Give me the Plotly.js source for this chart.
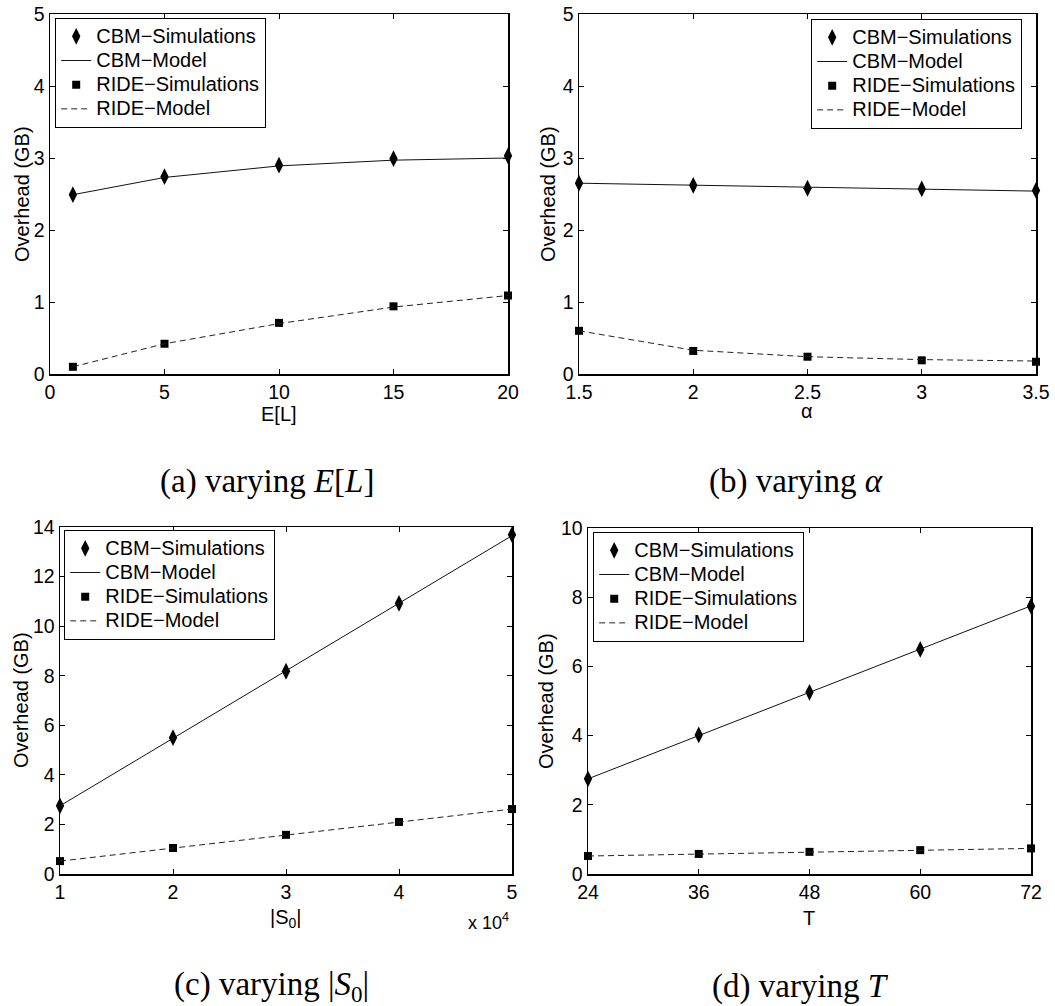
<!DOCTYPE html>
<html>
<head>
<meta charset="utf-8">
<script src="https://cdn.plot.ly/plotly-3.0.1.min.js"></script>
<style>html,body{margin:0;padding:0;background:#fff;}#chart{width:1055px;height:1006px;}</style>
</head>
<body>
<div id="chart"></div>
<script>
// ---------- data ----------
const seriesNames = ["CBM\u2212Simulations", "CBM\u2212Model", "RIDE\u2212Simulations", "RIDE\u2212Model"];

const xA = [1, 5, 10, 15, 20];
const cbmSimA = [2.49, 2.74, 2.90, 2.99, 3.03];
const cbmModelA = [2.49, 2.73, 2.89, 2.97, 3.00];
const rideSimA = [0.10, 0.42, 0.71, 0.94, 1.09];
const rideModelA = [0.10, 0.42, 0.70, 0.93, 1.09];

const xB = [1.5, 2, 2.5, 3, 3.5];
const cbmSimB = [2.65, 2.62, 2.58, 2.57, 2.55];
const cbmModelB = [2.65, 2.62, 2.59, 2.56, 2.54];
const rideSimB = [0.60, 0.32, 0.24, 0.19, 0.17];
const rideModelB = [0.60, 0.33, 0.24, 0.20, 0.18];

const xC = [10000, 20000, 30000, 40000, 50000];
const cbmSimC = [2.75, 5.50, 8.18, 10.92, 13.69];
const cbmModelC = [2.75, 5.48, 8.20, 10.93, 13.65];
const rideSimC = [0.52, 1.05, 1.58, 2.10, 2.62];
const rideModelC = [0.52, 1.05, 1.57, 2.09, 2.62];
const xCTickVals = [10000, 20000, 30000, 40000, 50000];
const xCTickText = ["1", "2", "3", "4", "5"];

const xD = [24, 36, 48, 60, 72];
const cbmSimD = [2.75, 4.02, 5.25, 6.49, 7.74];
const cbmModelD = [2.75, 4.00, 5.25, 6.50, 7.75];
const rideSimD = [0.52, 0.58, 0.64, 0.69, 0.74];
const rideModelD = [0.52, 0.58, 0.64, 0.69, 0.74];

const captions = ["(a) varying <i>E</i>[<i>L</i>]", "(b) varying <i>\u03b1</i>", "(c) varying |<i>S</i><sub>0</sub>|", "(d) varying <i>T</i>"];
const xTitles = ["E[L]", "\u03b1", "|S<sub>0</sub>|", "T"];
const yTitle = "Overhead (GB)";

// ---------- helpers ----------
const W = 1055, H = 1006;
const px = x => x / W;
const py = y => 1 - y / H;
const FONT = "Liberation Sans, Arial, sans-serif";
const legendName = s => '<span style="font-size:20px">' + s + '</span>';

const traces = [];
function addPanel(idx, x, cs, cm, rs, rm) {
  const sfx = idx === 0 ? "" : String(idx + 1);
  const xa = "x" + sfx, ya = "y" + sfx, lg = "legend" + sfx;
  traces.push({x: x, y: cs, xaxis: xa, yaxis: ya, legend: lg, name: legendName(seriesNames[0]), type: "scatter", mode: "markers",
    marker: {symbol: "diamond-tall", size: 12, color: "#000"}, cliponaxis: false});
  traces.push({x: x, y: cm, xaxis: xa, yaxis: ya, legend: lg, name: legendName(seriesNames[1]), type: "scatter", mode: "lines",
    line: {color: "#111", width: 1}});
  traces.push({x: x, y: rs, xaxis: xa, yaxis: ya, legend: lg, name: legendName(seriesNames[2]), type: "scatter", mode: "markers",
    marker: {symbol: "square", size: 8, color: "#000"}, cliponaxis: false});
  traces.push({x: x, y: rm, xaxis: xa, yaxis: ya, legend: lg, name: legendName(seriesNames[3]), type: "scatter", mode: "lines",
    line: {color: "#222", width: 1, dash: "6px,4px"}});
}
addPanel(0, xA, cbmSimA, cbmModelA, rideSimA, rideModelA);
addPanel(1, xB, cbmSimB, cbmModelB, rideSimB, rideModelB);
addPanel(2, xC, cbmSimC, cbmModelC, rideSimC, rideModelC);
addPanel(3, xD, cbmSimD, cbmModelD, rideSimD, rideModelD);

function axisBase(extra) {
  return Object.assign({
    showline: true, linecolor: "#000", linewidth: 1.5, mirror: "ticks",
    ticks: "inside", ticklen: 5, tickwidth: 1, tickcolor: "#000",
    showgrid: false, zeroline: false, fixedrange: true,
    tickfont: {family: FONT, size: 19.5, color: "#000"}
  }, extra);
}

const legendBase = {
  bgcolor: "#fff", bordercolor: "#000", borderwidth: 1.2,
  font: {family: FONT, size: 16.3, color: "#000"},
  tracegroupgap: 0, itemwidth: 30
};

const layout = {
  width: W, height: H,
  margin: {l: 0, r: 0, t: 0, b: 0},
  paper_bgcolor: "#fff", plot_bgcolor: "#fff",
  showlegend: true,
  font: {family: FONT, color: "#000"},
  xaxis: axisBase({domain: [px(50), px(508)], anchor: "y", range: [0, 20], tickvals: [0, 5, 10, 15, 20]}),
  yaxis: axisBase({domain: [py(374), py(14)], anchor: "x", range: [0, 5], dtick: 1}),
  xaxis2: axisBase({domain: [px(579), px(1036)], anchor: "y2", range: [1.5, 3.5], dtick: 0.5}),
  yaxis2: axisBase({domain: [py(374), py(14)], anchor: "x2", range: [0, 5], dtick: 1}),
  xaxis3: axisBase({domain: [px(60), px(512)], anchor: "y3", range: [10000, 50000], tickvals: xCTickVals, ticktext: xCTickText}),
  yaxis3: axisBase({domain: [py(874), py(527)], anchor: "x3", range: [0, 14], dtick: 2}),
  xaxis4: axisBase({domain: [px(588), px(1031)], anchor: "y4", range: [24, 72], dtick: 12}),
  yaxis4: axisBase({domain: [py(874), py(528)], anchor: "x4", range: [0, 10], dtick: 2}),
  legend: Object.assign({}, legendBase, {x: px(55), y: py(18), xanchor: "left", yanchor: "top"}),
  legend2: Object.assign({}, legendBase, {x: px(1022), y: py(19), xanchor: "right", yanchor: "top"}),
  legend3: Object.assign({}, legendBase, {x: px(64), y: py(530), xanchor: "left", yanchor: "top"}),
  legend4: Object.assign({}, legendBase, {x: px(593), y: py(532), xanchor: "left", yanchor: "top"}),
  annotations: []
};

const ann = layout.annotations;
const lblFont = {family: FONT, size: 20, color: "#000"};
// y titles
[[22, 194], [548, 194], [21, 700], [546, 701]].forEach(p => {
  ann.push({xref: "paper", yref: "paper", x: px(p[0]), y: py(p[1]), text: yTitle, textangle: -90,
    showarrow: false, xanchor: "center", yanchor: "middle", font: lblFont});
});
// x titles
[[279, 414], [807, 411], [286, 918], [809, 918]].forEach((p, i) => {
  ann.push({xref: "paper", yref: "paper", x: px(p[0]), y: py(p[1]), text: xTitles[i],
    showarrow: false, xanchor: "center", yanchor: "middle", font: lblFont});
});
// exponent label
ann.push({xref: "paper", yref: "paper", x: px(511), y: py(921), text: "x 10<sup>4</sup>",
  showarrow: false, xanchor: "right", yanchor: "middle", font: {family: FONT, size: 18, color: "#000"}});
// captions
[[267, 481], [796, 481], [271, 986], [800, 986]].forEach((p, i) => {
  ann.push({xref: "paper", yref: "paper", x: px(p[0]), y: py(p[1]), text: captions[i],
    showarrow: false, xanchor: "center", yanchor: "middle",
    font: {family: "Liberation Serif, Times New Roman, serif", size: 33, color: "#000"}});
});

Plotly.newPlot("chart", traces, layout, {staticPlot: true, displayModeBar: false});
</script>
</body>
</html>
